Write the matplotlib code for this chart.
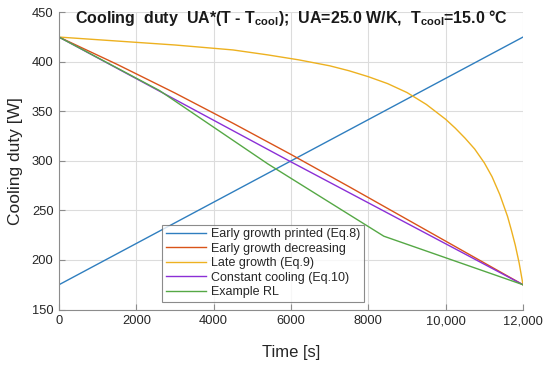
import matplotlib
matplotlib.use("Agg")
import matplotlib.pyplot as plt
from matplotlib.ticker import FixedLocator

plt.rcParams['font.family'] = ['Liberation Sans', 'DejaVu Sans']
plt.rcParams['mathtext.fontset'] = 'custom'
plt.rcParams['mathtext.rm'] = 'Liberation Sans'
plt.rcParams['mathtext.bf'] = 'Liberation Sans:bold'

# ---- data ----
t_blue = [0, 12000]
q_blue = [175, 425]

t_orange = [0, 1500, 3000, 4500, 6000, 7500, 9000, 10500, 12000]
q_orange = [425, 397.5, 368.5, 338, 306.5, 274, 241, 208, 175]

t_yellow = [0, 1500, 3000, 4500, 5400, 6200, 7000, 7500, 8000, 8500, 9000,
            9500, 10000, 10250, 10500, 10750, 11000, 11200, 11400, 11600,
            11700, 11800, 11900, 11950, 12000]
q_yellow = [425, 421, 417, 412, 407, 402, 396, 391, 385, 378, 369,
            357, 342, 333, 323, 312, 298, 284, 266, 244,
            230, 215, 197, 186, 175]

t_purple = [0, 3000, 6000, 9000, 12000]
q_purple = [425, 362, 299, 237, 175]

t_green = [0, 2600, 5400, 8400, 12000]
q_green = [425, 371, 297, 224, 175]

labels = ["Early growth printed (Eq.8)", "Early growth decreasing",
          "Late growth (Eq.9)", "Constant cooling (Eq.10)", "Example RL"]
colors = ["#2f7ebf", "#d95319", "#edb120", "#8b2fd6", "#55a845"]

x_ticks = [0, 2000, 4000, 6000, 8000, 10000, 12000]
x_ticklabels = ["0", "2000", "4000", "6000", "8000", "10,000", "12,000"]
y_ticks = [150, 200, 250, 300, 350, 400, 450]

fig = plt.figure(figsize=(5.5, 3.65), dpi=100)
ax = fig.add_axes([59/550, 1-309.5/365, (523-59)/550, (309.5-12.3)/365])

series = [(t_blue, q_blue), (t_orange, q_orange), (t_yellow, q_yellow),
          (t_purple, q_purple), (t_green, q_green)]
for (t, q), lab, c in zip(series, labels, colors):
    ax.plot(t, q, color=c, lw=1.0, label=lab)

ax.set_xlim(0, 12000)
ax.set_ylim(150, 450)
ax.xaxis.set_major_locator(FixedLocator(x_ticks))
ax.set_xticklabels(x_ticklabels)
ax.yaxis.set_major_locator(FixedLocator(y_ticks))
ax.grid(True, color='#dcdcdc', lw=0.8)
ax.set_axisbelow(True)
for s in ['top', 'right']:
    ax.spines[s].set_visible(False)
for s in ['left', 'bottom']:
    ax.spines[s].set_color('#8c8c8c')
    ax.spines[s].set_linewidth(0.8)
ax.tick_params(direction='in', length=4, color='#8c8c8c', labelsize=9.3,
               labelcolor='#262626', width=0.8, pad=4)
ax.set_xlabel("Time [s]", fontsize=12, color='#262626', labelpad=13)
ax.set_ylabel("Cooling duty [W]", fontsize=12.5, color='#262626', labelpad=6)

title = (r"Cooling  duty  UA*(T - T$_{\mathbf{cool}}$);  UA=25.0 W/K,  "
         r"T$_{\mathbf{cool}}$=15.0 °C")
ax.text(0.5, (309.5-18.5)/297.2, title, transform=ax.transAxes, ha='center',
        va='center', fontsize=11.5, fontweight='bold', color='#1a1a1a')

leg = ax.legend(loc='lower left', bbox_to_anchor=((162-59)/464, (309.5-302)/297.2),
                fontsize=9, frameon=True, fancybox=False, borderpad=0.3,
                labelspacing=0.2, handlelength=3.2, handletextpad=0.4,
                borderaxespad=0)
leg.get_frame().set_edgecolor('#6e6e6e')
leg.get_frame().set_linewidth(0.8)
for txt in leg.get_texts():
    txt.set_color('#262626')

fig.savefig("out.png", dpi=100)
